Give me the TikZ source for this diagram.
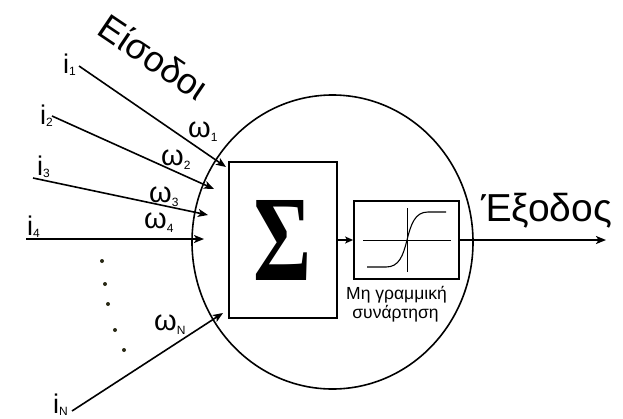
\documentclass[tikz,border=0pt]{standalone}
\usepackage{fontspec}
\setmainfont{Liberation Sans}
\newfontfamily\serifgr{Liberation Serif}
\usetikzlibrary{shapes.geometric,arrows.meta}
\newcommand\sz[1]{\fontsize{#1}{#1}\selectfont}
\newcommand\ilab[1]{{\sz{27}i}\raisebox{-2pt}{\sz{12}#1}}
\newcommand\wlab[1]{{\sz{29}ω}\raisebox{-4pt}{\sz{12}#1}}
\definecolor{dotc}{RGB}{40,40,20}
\tikzset{
  inarrow/.style={line width=1.6pt,-{Stealth[length=10pt,width=8pt,inset=2.5pt]}},
  lbl/.style={inner sep=0pt,anchor=base west},
  boxst/.style={draw,line width=1.8pt,inner sep=0pt},
}
\begin{document}
\begin{tikzpicture}[x=1pt,y=-1pt]
\useasboundingbox (0,0) rectangle (623,418);
% neuron body
\node[draw,ellipse,line width=1.6pt,minimum width=281pt,minimum height=294pt,inner sep=0pt] (neuron) at (332.5,242) {};
% summation box
\node[boxst,minimum width=108pt,minimum height=156pt] (sum) at (283,240) {\resizebox{58pt}{80pt}{\serifgr\bfseries Σ}};
% activation box
\node[boxst,minimum width=105pt,minimum height=78pt] (act) at (406.5,240) {};
\draw[line width=0.9pt] (363,240) -- (451,240);
\draw[line width=0.9pt] (407,208) -- (407,272);
\draw[line width=1.1pt] (367,267) -- (386,267) .. controls (399,267) and (403,256) .. (407,240) .. controls (411,224) and (415,212) .. (428,212) -- (446,212);
\node[inner sep=0pt,anchor=base,font=\sz{17.5}] (t1) at (396.5,299) {Μη γραμμική};
\node[inner sep=0pt,anchor=base,font=\sz{17.5}] (t2) at (395.5,318) {συνάρτηση};
% internal arrow
\draw[line width=1.4pt,-{Stealth[length=8pt,width=7pt,inset=2pt]}] (sum.east) -- (act.west);
% output
\coordinate (out) at (606,240);
\draw[line width=1.8pt,-{Stealth[length=10pt,width=8pt,inset=2.5pt]}] (act.east) -- (out);
\node[lbl,font=\sz{39}] (outlbl) at (481,221) {Έξοδος};
% inputs title
\node[inner sep=0pt,font=\sz{36},rotate=-34] (inlbl) at (154,57) {Είσοδοι};
% input lines
\coordinate (s1) at (79,66);   \coordinate (e1) at (226,167);
\coordinate (s2) at (52,116);  \coordinate (e2) at (214,189);
\coordinate (s3) at (33,178);  \coordinate (e3) at (208,215);
\coordinate (s4) at (26,239);  \coordinate (e4) at (204,239);
\coordinate (sN) at (72,411);  \coordinate (eN) at (223,313);
\draw[inarrow] (s1) -- (e1);
\draw[inarrow] (s2) -- (e2);
\draw[inarrow] (s3) -- (e3);
\draw[inarrow] (s4) -- (e4);
\draw[inarrow] (sN) -- (eN);
% input labels
\node[lbl] (i1) at (63,73) {\ilab{1}};
\node[lbl] (i2) at (40,124) {\ilab{2}};
\node[lbl] (i3) at (37,175) {\ilab{3}};
\node[lbl] (i4) at (27,235) {\ilab{4}};
\node[lbl] (iN) at (53,413) {\ilab{N}};
% weight labels
\node[lbl] (w1) at (188,137) {\wlab{1}};
\node[lbl] (w2) at (161,165) {\wlab{2}};
\node[lbl] (w3) at (149,202) {\wlab{3}};
\node[lbl] (w4) at (144,228) {\wlab{4}};
\node[lbl] (wN) at (154,330) {\wlab{N}};
% dots
\fill[dotc] (102,261) circle (2pt);
\fill[dotc] (105,284) circle (2pt);
\fill[dotc] (108,304) circle (2pt);
\fill[dotc] (115,330) circle (2pt);
\fill[dotc] (124,350) circle (2pt);
\end{tikzpicture}
\end{document}
